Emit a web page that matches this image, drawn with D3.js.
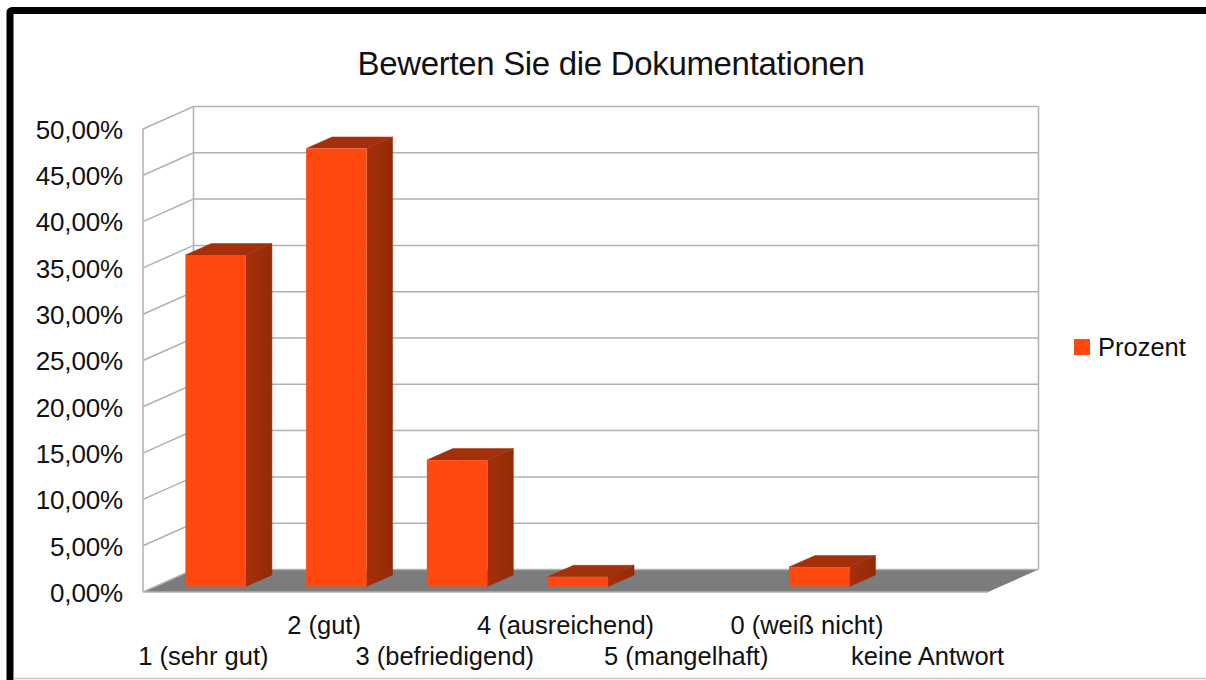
<!DOCTYPE html>
<html lang="de">
  <head>
    <meta charset="UTF-8" />
    <script src="https://d3js.org/d3.v7.min.js"></script>
    <title>Bewerten Sie die Dokumentationen</title>
    <style>
      html, body { margin: 0; padding: 0; background: #fff; overflow: hidden; }
      svg { display: block; }
      text { font-family: "Liberation Sans", Arial, sans-serif; fill: #111; }
    </style>
  </head>
  <body>
    <div id="chart"></div>
    <script>
      const categories = ['1 (sehr gut)', '2 (gut)', '3 (befriedigend)', '4 (ausreichend)', '5 (mangelhaft)', '0 (weiß nicht)', 'keine Antwort']
      const values = [35.8, 47.3, 13.65, 1.05, 0, 2.1, 0]
      const yTicks = [0, 5, 10, 15, 20, 25, 30, 35, 40, 45, 50]
      const seriesName = 'Prozent'
      const chartTitle = 'Bewerten Sie die Dokumentationen'

      const width = 1206, height = 680
      // the oblique wall goes this far back and up
      const depthX = 50.5, depthY = -22.5
      const plotLeft = 143, plotRight = 988, plotTop = 129, plotBottom = 592

      const svg = d3.select('#chart').append('svg').attr('width', width).attr('height', height)

      const sideFill = svg.append('defs').append('linearGradient').attr('id', 'side')
      sideFill.append('stop').attr('offset', '0%').attr('stop-color', '#a5300a')
      sideFill.append('stop').attr('offset', '100%').attr('stop-color', '#922a08')

      // frame of the screenshot, its bottom and right edge fall outside the picture
      svg.append('rect').attr('x', 10).attr('y', 10.5).attr('width', 1260).attr('height', 720)
        .attr('rx', 2).attr('fill', '#fff').attr('stroke', '#000').attr('stroke-width', 7)
      svg.append('line').attr('x1', 13.5).attr('x2', width).attr('y1', 678.5).attr('y2', 678.5)
        .attr('stroke', '#c8c8c8').attr('stroke-width', 1.5)

      const x = d3.scaleBand().domain(categories).range([plotLeft, plotRight])
      const y = d3.scaleLinear().domain([0, 50]).range([plotBottom, plotTop])

      // floor
      const wall = '#b0b0b0'
      svg.append('path')
        .attr('d', d3.line()([[plotLeft, plotBottom], [plotLeft + depthX, plotBottom + depthY], [plotRight + depthX, plotBottom + depthY], [plotRight, plotBottom]]))
        .attr('fill', '#7c7c7c')

      // gridlines on the back wall and the left wall
      const grid = svg.append('g').attr('fill', 'none').attr('stroke', wall).attr('stroke-width', 1.5)
      grid.selectAll('path.grid').data(yTicks).join('path').attr('class', 'grid')
        .attr('d', d => d3.line()([[plotLeft, y(d)], [plotLeft + depthX, y(d) + depthY], [plotRight + depthX, y(d) + depthY]]))
      grid.append('path').attr('d', d3.line()([[plotLeft, y(0)], [plotLeft, y(50)]]))
      grid.append('path').attr('d', d3.line()([[plotLeft + depthX, y(0) + depthY], [plotLeft + depthX, y(50) + depthY]]))
      grid.append('path').attr('d', d3.line()([[plotRight + depthX, y(0) + depthY], [plotRight + depthX, y(50) + depthY]]))
      grid.append('path').attr('d', d3.line()([[plotLeft, y(0)], [plotRight, y(0)]]))

      // bars: front plane sits a quarter into the depth, and they are half the depth deep
      const barW = 60.5, barX = 12.3, barY = -5.5, barDX = 26, barDY = -11.5
      const rows = categories.map((c, i) => ({ c, v: values[i] })).filter(d => d.v > 0)
      const bars = svg.append('g').selectAll('g').data(rows).join('g')
        .attr('transform', d => `translate(${x(d.c) + x.bandwidth() / 2 - barW / 2 + barX}, ${barY})`)

      bars.append('path')
        .attr('fill', 'url(#side)').attr('stroke', 'url(#side)').attr('stroke-width', 0.5)
        .attr('d', d => d3.line()([[barW, y(0)], [barW + barDX, y(0) + barDY], [barW + barDX, y(d.v) + barDY], [barW, y(d.v)]]))
      bars.append('path')
        .attr('fill', '#a3300a').attr('stroke', '#a3300a').attr('stroke-width', 0.5)
        .attr('d', d => d3.line()([[0, y(d.v)], [barDX, y(d.v) + barDY], [barW + barDX, y(d.v) + barDY], [barW, y(d.v)]]))
      bars.append('rect')
        .attr('x', 0).attr('y', d => y(d.v)).attr('width', barW)
        .attr('height', d => y(0) - y(d.v)).attr('fill', '#ff490e')

      // y axis
      const yAxis = svg.append('g').attr('transform', `translate(${plotLeft - 20}, 0)`)
        .call(d3.axisLeft(y).tickValues(yTicks).tickSize(0).tickPadding(0)
          .tickFormat(d => d3.format('.2f')(d).replace('.', ',') + '%'))
      yAxis.select('.domain').remove()
      yAxis.selectAll('text').attr('font-size', 26).attr('dy', '0.36em').attr('letter-spacing', -0.15)

      // x axis, labels take turns on two rows
      const xAxis = svg.append('g')
        .call(d3.axisBottom(x).tickSize(0).tickPadding(0))
      xAxis.select('.domain').remove()
      xAxis.selectAll('text').attr('font-size', 25.5).attr('dy', 0)
        .attr('y', (d, i) => (i % 2 ? 633.5 : 664.5))

      svg.append('text').attr('x', 611).attr('y', 75).attr('text-anchor', 'middle')
        .attr('font-size', 33).attr('letter-spacing', -0.32).text(chartTitle)

      // legend
      svg.append('rect').attr('x', 1074).attr('y', 339).attr('width', 16).attr('height', 16).attr('fill', '#ff490e')
      svg.append('text').attr('x', 1098).attr('y', 356).attr('font-size', 25.5).text(seriesName)
    </script>
  </body>
</html>
